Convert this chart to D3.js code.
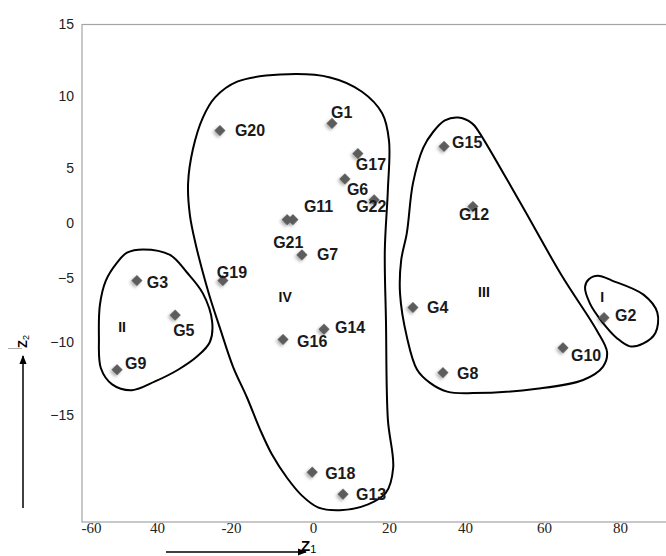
<!DOCTYPE html>
<html>
<head>
<meta charset="utf-8">
<script src="https://cdn.jsdelivr.net/npm/d3@7"></script>
<style>
  body { margin: 0; background: #fff; }
  svg { display: block; }
</style>
</head>
<body>
<div id="chart"></div>
<script>
// genotypes and their scores on the two axes
var groups = ["G1","G2","G3","G4","G5","G6","G7","G8","G9","G10","G11",
              "G12","G13","G14","G15","G16","G17","G18","G19","G20","G21","G22"];
var z1 = [5.0, 75.8, -46.1, 26.3, -35.1, 8.4, -2.7, 34.2, -52.1, 65.0, -4.9,
          42.0, 7.9, 2.9, 34.5, -7.3, 11.8, -0.2, -22.2, -23.0, -6.3, 16.1];
var z2 = [8.1, -8.1, -5.2, -7.3, -7.9, 4.0, -2.9, -12.1, -11.9, -10.4, 0.3,
          1.5, -20.4, -9.0, 6.5, -9.8, 6.0, -18.9, -5.2, 7.6, 0.3, 2.1];

// tick values (the printed axis is not evenly spaced, so the scales are piecewise)
var xTicks = [-60, -40, -20, 0, 20, 40, 60, 80];
var xTickLabels = ["-60", "40", "-20", "0", "20", "40", "60", "80"];
var yTicks = [15, 10, 5, 0, -5, -10, -15];

// cluster names, label spots and hand drawn outlines, in axis units
var clusterNames = ["I", "II", "III", "IV"];
var clusterLabelZ1 = [75.3, -50.6, 44.8, -6.8];
var clusterLabelZ2 = [-6.5, -8.8, -6.1, -6.5];

var outlineI = [[74.2,-4.8],[77.9,-5.2],[86.1,-6.3],[89.7,-7.7],[89.2,-9.3],[86.1,-10.1],
  [82.6,-10.3],[79.2,-9.7],[75.5,-8.5],[72.1,-7.0],[70.8,-5.7],[71.8,-5.1]];
var outlineII = [[-44.2,-2.4],[-36.5,-2.9],[-31.9,-4.5],[-27.6,-6.2],[-25.1,-8.4],[-25.7,-10.0],
  [-29.2,-11.0],[-34.3,-11.9],[-40.6,-12.7],[-47.6,-13.3],[-53.6,-12.9],[-57.0,-11.8],
  [-57.6,-9.6],[-57.3,-7.1],[-55.5,-5.2],[-52.1,-3.6],[-49.1,-2.7]];
var outlineIII = [[38.2,8.5],[41.8,8.1],[43.3,7.6],[53.9,1.9],[64.7,-4.8],[73.9,-9.1],
  [76.6,-10.7],[75.5,-11.7],[70.3,-12.6],[58.2,-13.2],[42.0,-13.5],[35.3,-13.4],[30.8,-12.8],
  [27.4,-11.9],[24.7,-9.6],[22.9,-6.2],[23.2,-3.4],[24.7,-0.9],[26.3,3.6],[29.0,6.4],
  [31.6,7.5],[34.7,8.3]];
var outlineIV = [[-8.0,11.5],[4.5,11.3],[12.9,10.3],[18.2,8.8],[20.0,6.9],[19.7,3.0],
  [18.9,-2.5],[19.2,-8.3],[19.7,-15.3],[21.1,-18.6],[19.2,-20.3],[14.5,-21.1],[7.1,-21.5],
  [1.3,-21.3],[-2.7,-20.5],[-6.3,-19.3],[-10.0,-17.7],[-12.9,-16.0],[-16.1,-13.8],
  [-19.5,-11.7],[-23.0,-8.9],[-25.7,-6.5],[-27.6,-4.5],[-29.5,-2.0],[-31.1,0.7],
  [-31.6,3.6],[-30.3,6.3],[-27.6,8.5],[-24.3,9.9],[-18.5,11.0]];

// where each point label sits relative to its marker (px)
var labelOffset = {
  G1: [-1, -11], G2: [11, -2], G3: [10, 2], G4: [14, 0], G5: [-2, 15], G6: [2, 10],
  G7: [15, 0], G8: [14, 1], G9: [8, -6], G10: [8, 8], G11: [11, -13], G12: [-14, 8],
  G13: [13, 0], G14: [11, -2], G15: [8, -4], G16: [14, 2], G17: [-2, 11], G18: [13, 1],
  G19: [-6, -8], G20: [15, 0], G21: [-14, 23], G22: [-18, 7]
};

var width = 666, height = 556;

var svg = d3.select("#chart")
  .append("svg")
    .attr("width", width)
    .attr("height", height)
    .style("font-family", "'Liberation Sans', Arial, sans-serif");

var x = d3.scaleLinear()
  .domain([-62.7, -60, -40, -20, 0, 20, 40, 60, 80, 93])
  .range([82, 91, 157, 231, 313, 389, 465, 544, 620, 670]);

var y = d3.scaleLinear()
  .domain([-22.3, -15, -10, -5, 0, 5, 10, 15])
  .range([522, 415, 342, 278, 223, 168, 96, 24.5]);

var defs = svg.append("defs");
var shadow = defs.append("filter").attr("id", "soft")
  .attr("x", "-50%").attr("y", "-50%").attr("width", "200%").attr("height", "220%");
shadow.append("feGaussianBlur").attr("in", "SourceGraphic").attr("stdDeviation", 0.5).attr("result", "b");
shadow.append("feDropShadow").attr("in", "b").attr("dx", 0).attr("dy", 2.5)
  .attr("stdDeviation", 1.4).attr("flood-color", "#000").attr("flood-opacity", 0.3);

defs.append("marker").attr("id", "arrow")
  .attr("viewBox", "0 0 10 10").attr("refX", 9).attr("refY", 5)
  .attr("markerWidth", 9).attr("markerHeight", 9).attr("markerUnits", "userSpaceOnUse")
  .attr("orient", "auto")
  .append("path").attr("d", "M0,1 L10,5 L0,9 Z").attr("fill", "#000");

// plot frame
svg.append("rect")
  .attr("x", x.range()[0])
  .attr("y", y(15))
  .attr("width", x(93) - x.range()[0])
  .attr("height", y(-22.3) - y(15))
  .attr("fill", "#fff")
  .attr("stroke", "#a4a4a4")
  .attr("stroke-width", 1.2);

// y axis
var yAxis = svg.append("g")
  .attr("transform", "translate(" + x.range()[0] + ",0)")
  .call(d3.axisLeft(y).tickValues(yTicks).tickSize(0).tickPadding(8));
yAxis.select(".domain").remove();
yAxis.selectAll("text")
  .style("font-family", "'Liberation Sans', Arial, sans-serif")
  .style("font-size", "14px")
  .attr("fill", "#222");

// x axis
var xAxis = svg.append("g")
  .attr("transform", "translate(0," + y(-22.3) + ")")
  .call(d3.axisBottom(x).tickValues(xTicks)
    .tickFormat(function(d, i) { return xTickLabels[i]; })
    .tickSize(0).tickPadding(0));
xAxis.select(".domain").remove();
xAxis.selectAll("text")
  .style("font-family", "'Liberation Serif', 'Times New Roman', serif")
  .style("font-size", "15px")
  .attr("fill", "#222");

// cluster outlines
var outline = d3.line()
  .x(function(d) { return x(d[0]); })
  .y(function(d) { return y(d[1]); })
  .curve(d3.curveCatmullRomClosed.alpha(0.5));

svg.append("g")
  .selectAll("path")
  .data([outlineI, outlineII, outlineIII, outlineIV])
  .enter()
  .append("path")
    .attr("d", outline)
    .attr("fill", "none")
    .attr("stroke", "#000")
    .attr("stroke-width", 2)
    .attr("stroke-linejoin", "round");

// cluster names
svg.append("g")
  .selectAll("text")
  .data(clusterNames)
  .enter()
  .append("text")
    .attr("x", function(d, i) { return x(clusterLabelZ1[i]); })
    .attr("y", function(d, i) { return y(clusterLabelZ2[i]); })
    .attr("text-anchor", "middle")
    .attr("dominant-baseline", "central")
    .style("font-size", "14px")
    .style("font-weight", "bold")
    .attr("fill", "#111")
    .text(function(d) { return d; });

// markers
var points = groups.map(function(g, i) { return { name: g, z1: z1[i], z2: z2[i] }; });

svg.append("g")
  .selectAll("path")
  .data(points)
  .enter()
  .append("path")
    .attr("d", d3.symbol().type(d3.symbolSquare).size(62))
    .attr("transform", function(d) {
      return "translate(" + x(d.z1) + "," + y(d.z2) + ") rotate(45)";
    })
    .attr("fill", "#5c5c5c")
    .attr("filter", "url(#soft)");

// point labels
svg.append("g")
  .selectAll("text")
  .data(points)
  .enter()
  .append("text")
    .attr("x", function(d) { return x(d.z1) + labelOffset[d.name][0]; })
    .attr("y", function(d) { return y(d.z2) + labelOffset[d.name][1]; })
    .attr("dominant-baseline", "central")
    .style("font-size", "16px")
    .style("font-weight", "bold")
    .attr("fill", "#1a1a1a")
    .text(function(d) { return d.name; });

// axis titles with arrows
svg.append("line")
  .attr("x1", 166).attr("y1", 552).attr("x2", 306).attr("y2", 552)
  .attr("stroke", "#000").attr("stroke-width", 1.5)
  .attr("marker-end", "url(#arrow)");
var t1 = svg.append("text")
  .attr("x", 301).attr("y", 551)
  .style("font-size", "15px").style("font-weight", "bold");
t1.append("tspan").text("Z");
t1.append("tspan").attr("dy", 1.5).style("font-size", "11px").style("font-weight", "normal").text("1");

svg.append("line")
  .attr("x1", 23).attr("y1", 508).attr("x2", 23).attr("y2", 356)
  .attr("stroke", "#000").attr("stroke-width", 1.5)
  .attr("marker-end", "url(#arrow)");
svg.append("line")
  .attr("x1", 8).attr("y1", 348.5).attr("x2", 22).attr("y2", 348.5)
  .attr("stroke", "#aaa").attr("stroke-width", 1);
var t2 = svg.append("text")
  .attr("transform", "translate(27,348) rotate(-90)")
  .style("font-size", "13px").style("font-weight", "bold");
t2.append("tspan").text("Z");
t2.append("tspan").attr("dy", 2).style("font-size", "9px").style("font-weight", "normal").text("2");
</script>
</body>
</html>
